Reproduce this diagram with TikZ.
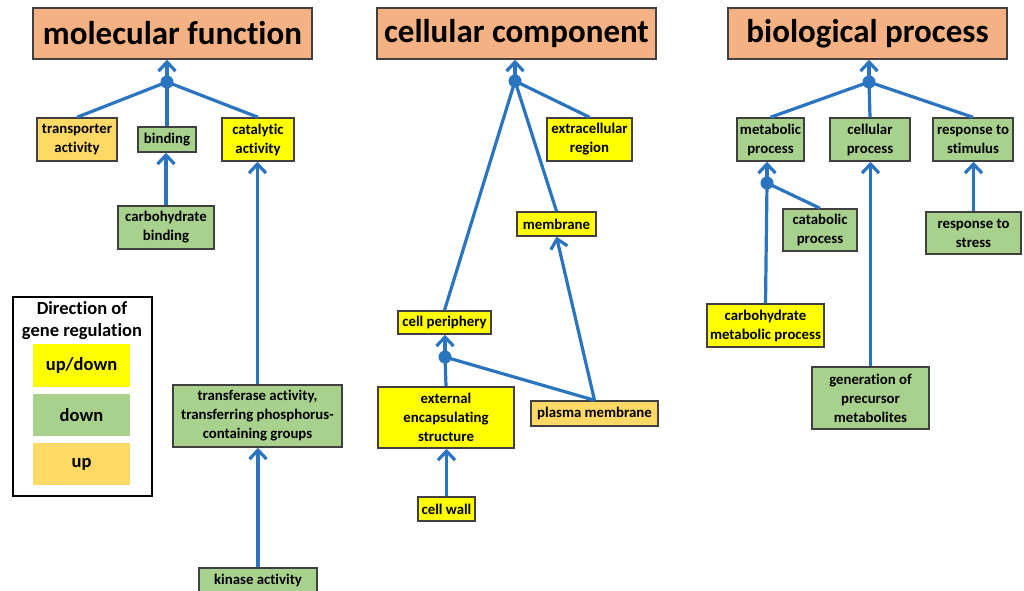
\documentclass[tikz,border=0pt]{standalone}
\usepackage{fontspec}
\setmainfont{Carlito}[RawFeature=-liga]
\usetikzlibrary{arrows.meta}
\definecolor{hdr}{HTML}{F4B183}
\definecolor{grn}{HTML}{A9D18E}
\definecolor{yel}{HTML}{FFFF00}
\definecolor{org}{HTML}{FFD966}
\definecolor{lnk}{HTML}{2A74C0}
\definecolor{bord}{HTML}{404040}
\newcommand\mybox[7]{\node[box,fill=#2,minimum width={(#5-#3)*1pt},minimum height={(#6-#4)*1pt}] (#1) at ({(#3+#5)/2},{(#4+#6)/2}) {#7};}
\begin{document}
\begin{tikzpicture}[x=1pt,y=-1pt,
 box/.style={draw=bord, line width=1.5pt, inner sep=0pt, align=center, font=\fontsize{14.8}{19}\selectfont\bfseries},
 hdrbox/.style={box, font=\fontsize{33}{38}\selectfont\bfseries},
 link/.style={draw=lnk, line width=3.2pt},
 arr/.style={link, -{Straight Barb[length=9pt,width=17pt]}},
 jdot/.style={circle, fill=lnk, inner sep=0pt, minimum size=13pt},
 swatch/.style={inner sep=0pt, font=\fontsize{18.5}{22}\selectfont\bfseries}]
\fill[white] (0,0) rectangle (1024,590);
\useasboundingbox (0,0) rectangle (1024,590);
% headers
\node[hdrbox,fill=hdr,minimum width=279pt,minimum height=51pt] (mf) at (172.5,33.5) {molecular function};
\node[hdrbox,fill=hdr,minimum width=279pt,minimum height=51pt] (cc) at (516.5,33.5) {cellular component};
\node[hdrbox,fill=hdr,minimum width=279pt,minimum height=51pt] (bp) at (867.5,33.5) {biological process};
% MF
\mybox{trans}{org}{37}{118}{117}{161}{transporter\\activity}
\mybox{bind}{grn}{138}{127}{196}{152}{binding}
\mybox{cata}{yel}{222}{118}{294}{161}{catalytic\\activity}
\mybox{cbind}{grn}{118}{206}{214}{249}{carbohydrate\\binding}
\mybox{tfer}{grn}{173}{385}{342}{447}{transferase activity,\\transferring phosphorus-\\containing groups}
\mybox{kin}{grn}{199}{568}{317}{593}{kinase activity}
\node[jdot] (d1) at (167,82) {};
% CC
\mybox{extra}{yel}{547}{118}{632}{161}{extracellular\\region}
\mybox{memb}{yel}{517}{212}{596}{236}{membrane}
\mybox{cper}{yel}{398}{311}{491}{334}{cell periphery}
\mybox{ext}{yel}{378}{387}{514}{448}{external\\encapsulating\\structure}
\mybox{pm}{org}{531}{401}{658}{426}{plasma membrane}
\mybox{cw}{yel}{418}{497}{475}{521}{cell wall}
\node[jdot] (d2) at (515,81) {};
\node[jdot] (d3) at (445,357) {};
% BP
\mybox{meta}{grn}{737}{118}{804}{161}{metabolic\\process}
\mybox{cell}{grn}{830}{118}{910}{161}{cellular\\process}
\mybox{resp}{grn}{933}{118}{1013}{161}{response to\\stimulus}
\mybox{catab}{grn}{783}{209}{857}{251}{catabolic\\process}
\mybox{stress}{grn}{926}{212}{1021}{254}{response to\\stress}
\mybox{cmp}{yel}{707}{304}{824}{347}{carbohydrate\\metabolic process}
\mybox{gen}{grn}{812}{367}{929}{429}{generation of\\precursor\\metabolites}
\node[jdot] (d4) at (869,82) {};
\node[jdot] (d5) at (767,183) {};
% legend
\node[draw=black,line width=1.5pt,inner sep=0pt,minimum width=139pt,minimum height=199pt] (leg) at (82.5,396.5) {};
\node[swatch,align=center] (legt) at (82,321) {Direction of\\gene regulation};
\node[swatch,fill=yel,minimum width=97pt,minimum height=43pt] (sw1) at (81.5,365.5) {up/down};
\node[swatch,fill=grn,minimum width=97pt,minimum height=42pt] (sw2) at (81.5,415) {down};
\node[swatch,fill=org,minimum width=97pt,minimum height=42pt] (sw3) at (81.5,464) {up};
% MF links
\draw[arr] (d1.center) -- (d1.center |- mf.south);
\draw[link] (trans.north) -- (d1.center);
\draw[link] (bind.north) -- (d1.center);
\draw[link] (cata.north) -- (d1.center);
\draw[arr] (cbind.north) -- (cbind.north |- bind.south);
\draw[arr] (tfer.north) -- (tfer.north |- cata.south);
\draw[arr] (kin.north) -- (kin.north |- tfer.south);
% CC links
\draw[arr] (d2.center) -- (d2.center |- cc.south);
\draw[link] (extra.north) -- (d2.center);
\draw[link] (memb.north) -- (d2.center);
\draw[link] (cper.north) -- (d2.center);
\draw[arr] (pm.north) -- (memb.south);
\draw[link] (pm.north) -- (d3.center);
\draw[link] (ext.north) -- (d3.center);
\draw[arr] (d3.center) -- (d3.center |- cper.south);
\draw[arr] (cw.north) -- (cw.north |- ext.south);
% BP links
\draw[arr] (d4.center) -- (d4.center |- bp.south);
\draw[link] (meta.north) -- (d4.center);
\draw[link] (cell.north) -- (d4.center);
\draw[link] (resp.north) -- (d4.center);
\draw[arr] (d5.center) -- (d5.center |- meta.south);
\draw[link] (catab.north) -- (d5.center);
\draw[link] (cmp.north) -- (d5.center);
\draw[arr] (gen.north) -- (gen.north |- cell.south);
\draw[arr] (stress.north) -- (stress.north |- resp.south);
\end{tikzpicture}
\end{document}
